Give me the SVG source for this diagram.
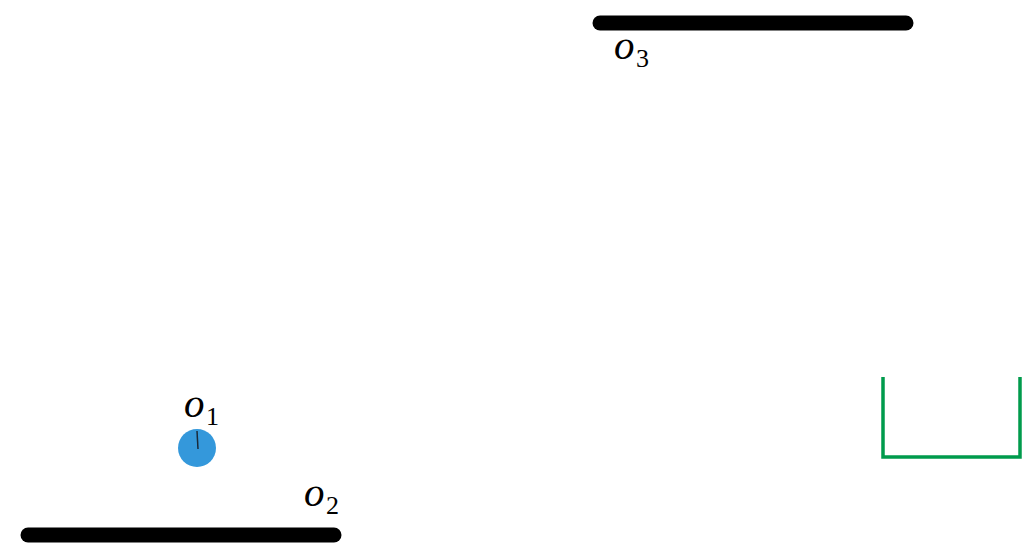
<svg xmlns="http://www.w3.org/2000/svg" width="1029" height="550" viewBox="0 0 1029 550">
<style>
.bar{stroke:#000;stroke-width:15;stroke-linecap:round;fill:none}
.lbl{font-family:"Liberation Serif",serif;font-style:italic;font-size:41px;fill:#000}
.sub{font-family:"Liberation Serif",serif;font-style:normal;font-size:26px}
</style>
<rect width="1029" height="550" fill="#fff"/>
<g id="o3">
<line class="bar" x1="600" y1="23" x2="906" y2="23"/>
<text class="lbl" x="614" y="59">o<tspan class="sub" x="636" dy="8">3</tspan></text>
</g>
<g id="o2">
<line class="bar" x1="28" y1="535" x2="334" y2="535"/>
<text class="lbl" x="304" y="506">o<tspan class="sub" x="326" dy="8">2</tspan></text>
</g>
<g id="o1">
<circle cx="197" cy="448" r="19" fill="#3498db"/>
<line x1="197" y1="431" x2="198" y2="449" stroke="#1a2a3a" stroke-width="1.5"/>
<text class="lbl" x="184" y="417">o<tspan class="sub" x="206" dy="8">1</tspan></text>
</g>
<g id="goal">
<polyline points="883,377 883,457 1020,457 1020,377" fill="none" stroke="#009b4c" stroke-width="3.5"/>
</g>
<g id="connectors"></g>
</svg>
